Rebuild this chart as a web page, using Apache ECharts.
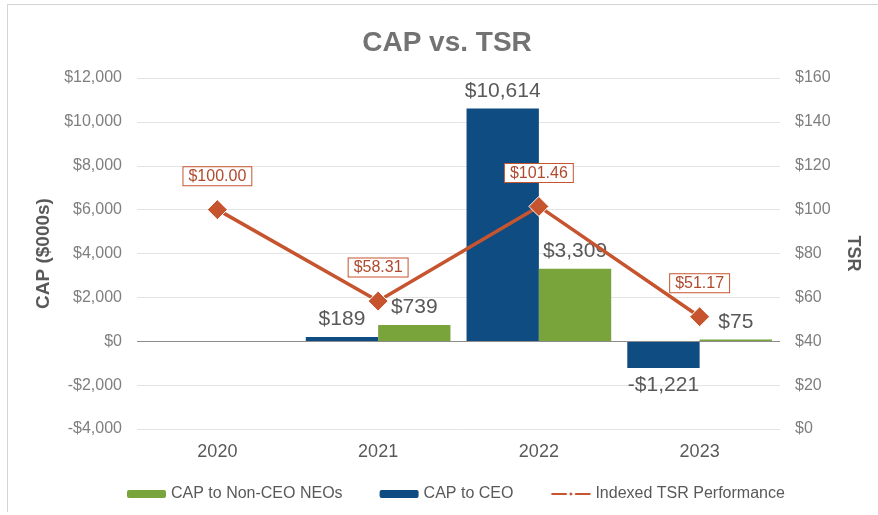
<!DOCTYPE html>
<html>
<head>
<meta charset="utf-8">
<script src="https://cdn.jsdelivr.net/npm/echarts@6/dist/echarts.min.js"></script>
<style>
html,body{margin:0;padding:0;background:#fff;}
#chart{width:878px;height:515px;}
</style>
</head>
<body>
<div id="chart"></div>
<script>
const categories = ['2020', '2021', '2022', '2023'];
const capCEO = [null, 189, 10614, -1221];
const capNonCEO = [null, 739, 3309, 75];
const tsr = [100.00, 58.31, 101.46, 51.17];
const leftTicks = { min: -4000, max: 12000, interval: 2000 };
const rightTicks = { min: 0, max: 160, interval: 20 };

const BLUE = '#0f4c81';
const GREEN = '#79a33b';
const ORANGE = '#c6552f';
const FONT = 'Liberation Sans, Arial, sans-serif';

function money(v) {
  const s = Math.abs(v).toLocaleString('en-US');
  return (v < 0 ? '-$' : '$') + s;
}

const barLabel = {
  show: true,
  fontFamily: FONT,
  fontSize: 21,
  color: '#595959',
  distance: 7,
  formatter: p => money(p.value)
};

function barData(arr) {
  return arr.map(v => v == null ? null : {
    value: v,
    label: { position: v < 0 ? 'bottom' : 'top' }
  });
}

const chart = echarts.init(document.getElementById('chart'), null, { renderer: 'canvas' });
chart.setOption({
  animation: false,
  backgroundColor: '#fff',
  textStyle: { fontFamily: FONT },
  title: {
    text: 'CAP vs. TSR',
    left: 442, top: 24, textAlign: 'center',
    textStyle: { fontSize: 28, fontWeight: 'bold', color: '#737373', fontFamily: FONT }
  },
  graphic: [
    { type: 'line', shape: { x1: 7.5, y1: 4, x2: 7.5, y2: 512 }, style: { stroke: '#d4d4d4', lineWidth: 1 }, silent: true },
    { type: 'line', shape: { x1: 7, y1: 4.5, x2: 878, y2: 4.5 }, style: { stroke: '#d4d4d4', lineWidth: 1 }, silent: true }
  ],
  legend: {
    left: 122, top: 481,
    itemWidth: 39, itemHeight: 8, itemGap: 37,
    textStyle: { fontSize: 16, color: '#595959' },
    data: ['CAP to Non-CEO NEOs', 'CAP to CEO', 'Indexed TSR Performance']
  },
  grid: { left: 137, right: 98, top: 78, bottom: 86 },
  xAxis: {
    type: 'category',
    data: categories,
    axisLine: { show: false },
    axisTick: { show: false },
    axisLabel: { fontSize: 18, color: '#595959', margin: 14 }
  },
  yAxis: [
    {
      type: 'value',
      min: leftTicks.min, max: leftTicks.max, interval: leftTicks.interval,
      name: 'CAP ($000s)', nameLocation: 'middle', nameRotate: 90, nameGap: 81,
      nameTextStyle: { fontSize: 19, fontWeight: 'bold', color: '#595959' },
      axisLine: { show: false }, axisTick: { show: false },
      axisLabel: { fontSize: 16, color: '#7f7f7f', margin: 15, formatter: v => money(v) },
      splitLine: { lineStyle: { color: '#e4e4e4', width: 1 } }
    },
    {
      type: 'value',
      min: rightTicks.min, max: rightTicks.max, interval: rightTicks.interval,
      name: 'TSR', nameLocation: 'middle', nameRotate: -90, nameGap: 64,
      nameTextStyle: { fontSize: 18, fontWeight: 'bold', color: '#595959' },
      axisLine: { show: false }, axisTick: { show: false },
      axisLabel: { fontSize: 16, color: '#7f7f7f', margin: 15, formatter: v => '$' + v },
      splitLine: { show: false }
    }
  ],
  series: [
    {
      name: 'CAP to CEO', type: 'bar', yAxisIndex: 0,
      data: barData(capCEO),
      itemStyle: { color: BLUE },
      barGap: '0%', barCategoryGap: '10%',
      label: barLabel,
      markLine: {
        silent: true, symbol: 'none', label: { show: false },
        lineStyle: { color: '#8c8c8c', type: 'solid', width: 1.2 },
        data: [{ yAxis: 0 }]
      }
    },
    {
      name: 'CAP to Non-CEO NEOs', type: 'bar', yAxisIndex: 0,
      data: barData(capNonCEO),
      itemStyle: { color: GREEN },
      barGap: '0%', barCategoryGap: '10%',
      label: barLabel
    },
    {
      name: 'Indexed TSR Performance', type: 'line', yAxisIndex: 1,
      data: tsr,
      symbol: 'diamond', symbolSize: 20,
      lineStyle: { color: ORANGE, width: 3.5 },
      itemStyle: { color: ORANGE, borderColor: '#fff', borderWidth: 1 },
      z: 5,
      label: {
        show: true, position: 'top', distance: 14,
        formatter: p => '$' + p.value.toFixed(2),
        fontSize: 16, lineHeight: 17, color: '#b04a2e',
        backgroundColor: '#fff', borderColor: ORANGE, borderWidth: 1,
        padding: [1, 5, 0, 5]
      }
    }
  ]
});
</script>
</body>
</html>
